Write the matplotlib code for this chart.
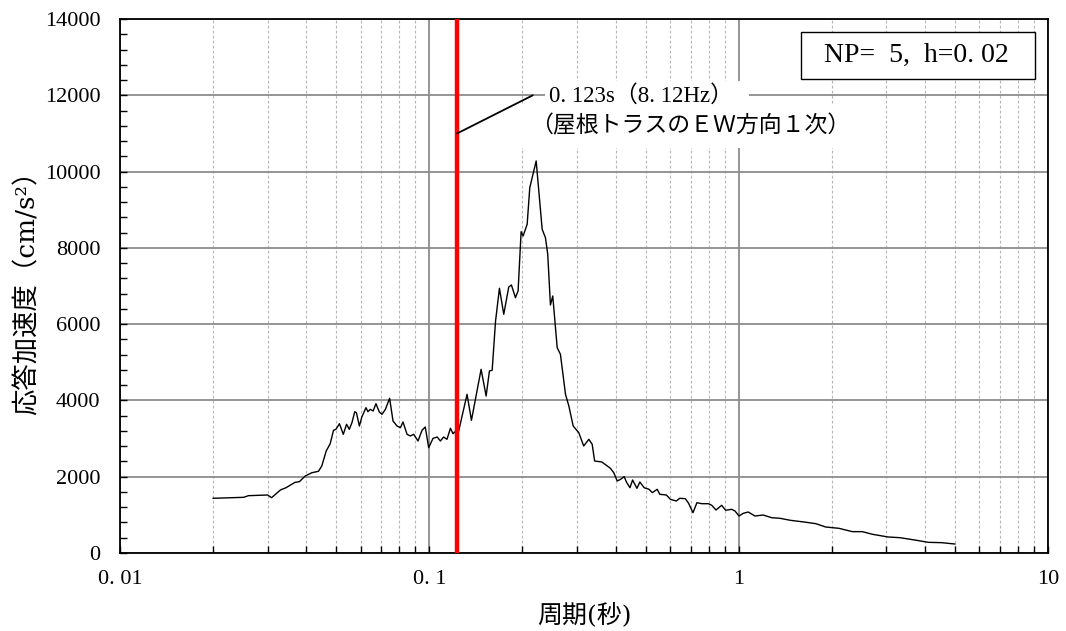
import numpy as np
import matplotlib
matplotlib.use("Agg")
import matplotlib.pyplot as plt
from matplotlib.ticker import FixedLocator, FixedFormatter, LogLocator, MultipleLocator, NullFormatter
from matplotlib.patches import Rectangle

plt.rcParams['font.family'] = ['Liberation Serif', 'Noto Sans CJK JP']

# Response spectrum (period [s], response acceleration [cm/s2])
period = [0.020, 0.0251, 0.026, 0.030, 0.0309, 0.033, 0.0344, 0.0368, 0.038, 0.0397,
          0.0417, 0.0438, 0.0449, 0.0464, 0.0478, 0.0490, 0.0499, 0.0512, 0.0527, 0.054,
          0.0551, 0.0562, 0.0574, 0.0581, 0.0594, 0.0605, 0.0624, 0.0633, 0.0644, 0.0658,
          0.0672, 0.0689, 0.0703, 0.0721, 0.0744, 0.0763, 0.0786, 0.0806, 0.0822, 0.0847,
          0.0868, 0.0890, 0.0919, 0.0947, 0.0970, 0.0995, 0.1028, 0.106, 0.1086, 0.1112,
          0.114, 0.117, 0.1193, 0.1223, 0.1244, 0.1324, 0.1368, 0.147, 0.1526, 0.1564,
          0.1596, 0.1637, 0.1685, 0.1740, 0.1806, 0.1842, 0.1898, 0.1936, 0.198, 0.201,
          0.2071, 0.2112, 0.2215, 0.2316, 0.2373, 0.2414, 0.2463, 0.2506, 0.259, 0.2653,
          0.2755, 0.2825, 0.2917, 0.3042, 0.3155, 0.3278, 0.3361, 0.3422, 0.3613, 0.3849,
          0.3947, 0.4049, 0.4152, 0.4264, 0.4349, 0.4451, 0.4541, 0.4689, 0.4793, 0.4947,
          0.5131, 0.5258, 0.5454, 0.5559, 0.5838, 0.6014, 0.6286, 0.6444, 0.6722, 0.6889,
          0.7117, 0.7330, 0.7604, 0.7982, 0.8183, 0.8447, 0.8811, 0.9077, 0.9492, 0.9732,
          1.0023, 1.035, 1.074, 1.129, 1.20, 1.278, 1.36, 1.47, 1.627, 1.777,
          1.91, 2.11, 2.33, 2.51, 2.71, 3.04, 3.32, 3.71, 4.10, 4.53, 5.00]
accel = [1434, 1460, 1503, 1521, 1450, 1652, 1712, 1853, 1870, 2019,
         2105, 2142, 2281, 2674, 2866, 3217, 3243, 3390, 3112, 3374,
         3243, 3417, 3705, 3679, 3330, 3566, 3810, 3705, 3767, 3723,
         3915, 3697, 3636, 3767, 4056, 3461, 3330, 3285, 3435, 3112,
         3068, 3112, 2937, 3217, 3304, 2761, 3007, 3041, 2937, 3041,
         2981, 3270, 3128, 3217, 3199, 4161, 3479, 4816, 4116, 4772,
         4790, 6083, 6940, 6258, 6974, 7027, 6694, 6869, 8424, 8312,
         8618, 9578, 10278, 8487, 8267, 7831, 6502, 6738, 5383, 5210,
         4161, 3854, 3330, 3154, 2805, 2981, 2850, 2412, 2386, 2221,
         2105, 1888, 1932, 2001, 1843, 1712, 1914, 1696, 1861, 1712,
         1670, 1582, 1670, 1539, 1521, 1408, 1363, 1434, 1425, 1303,
         1057, 1319, 1293, 1293, 1251, 1127, 1251, 1120, 1146, 1101,
         970, 1041, 1075, 970, 996, 926, 910, 857, 813, 769,
         682, 647, 560, 560, 490, 420, 402, 341, 280, 271, 236]

mode_period = 0.123
x_ticks = [0.01, 0.1, 1, 10]
x_labels = ['0. 01', '0. 1', '1', '10']
y_ticks = [0, 2000, 4000, 6000, 8000, 10000, 12000, 14000]

fig = plt.figure(figsize=(10.66, 6.31), dpi=100)
ax = fig.add_axes([0.1126, 0.1236, 0.8705, 0.8463])

ax.set_xscale('log')
ax.set_xlim(0.01, 10)
ax.set_ylim(0, 14000)

# grid
ax.xaxis.set_major_locator(FixedLocator(x_ticks))
ax.xaxis.set_major_formatter(FixedFormatter(x_labels))
ax.xaxis.set_minor_locator(LogLocator(base=10, subs=np.arange(2, 10)))
ax.xaxis.set_minor_formatter(NullFormatter())
ax.yaxis.set_major_locator(FixedLocator(y_ticks))
ax.yaxis.set_minor_locator(MultipleLocator(400))
ax.grid(which='major', color='#8c8c8c', lw=1.3)
ax.grid(which='minor', axis='x', color='#b5b5b5', lw=0.8, ls=(0, (2.5, 2)))
ax.set_axisbelow(True)

ax.tick_params(which='both', direction='in', top=False, right=False, color='black')
ax.tick_params(which='major', length=5, width=1.0, labelsize=16)
ax.tick_params(which='minor', length=5, width=1.0)
ax.tick_params(axis='x', pad=12)
ax.tick_params(axis='y', pad=14)
for s in ax.spines.values():
    s.set_linewidth(1.3)
    s.set_color('black')

ax.plot(period, accel, color='black', lw=1.0, zorder=3)
ax.axvline(mode_period, color='#ff0000', lw=3.2, zorder=4)

# annotation for the roof truss mode
ax.annotate('', xy=(mode_period, 11000), xytext=(0.216, 12000),
            arrowprops=dict(arrowstyle='-', color='black', lw=1.3, shrinkA=0, shrinkB=0),
            zorder=7)
ax.text(0.2116, 11200, '（屋根トラスのＥＷ方向１次）', ha='left', va='center',
        fontsize=16.5, zorder=5, bbox=dict(facecolor='white', edgecolor='none', pad=8))
ax.text(0.2445, 11990, '0. 123s（8. 12Hz）  ', ha='left', va='center',
        fontsize=16.5, zorder=6, bbox=dict(facecolor='white', edgecolor='none', pad=3))

# parameter box
ax.add_patch(Rectangle((0.7338, 0.8876), 0.2522, 0.0886, transform=ax.transAxes,
                       facecolor='white', edgecolor='black', lw=1.0, zorder=6))
ax.text(0.8578, 0.9318, 'NP=  5,  h=0. 02', transform=ax.transAxes, ha='center', va='center',
        fontsize=20, zorder=7)

ax.set_xlabel('周期(秒)', fontsize=18, labelpad=10,
              family=['DejaVu Serif', 'Noto Sans CJK JP'])
ax.set_ylabel('応答加速度（cm/s²）', fontsize=19, labelpad=4,
              family=['DejaVu Serif', 'Noto Sans CJK JP'])

fig.savefig('out.png', dpi=100)
